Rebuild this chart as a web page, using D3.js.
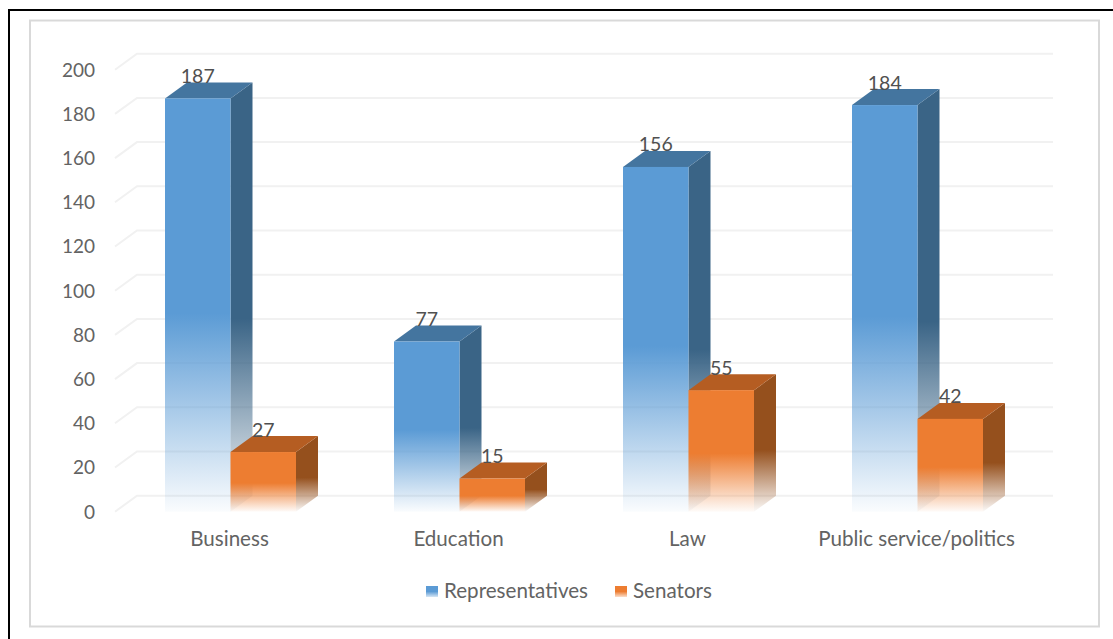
<!DOCTYPE html>
<html>
<head>
<meta charset="utf-8">
<script src="https://cdn.jsdelivr.net/npm/d3@7"></script>
<style>
  html, body { margin: 0; padding: 0; background: #fff; }
  svg { display: block; }
  text { font-family: Lato, "Open Sans", sans-serif; }
</style>
</head>
<body>
<div id="chart"></div>
<script>
var categories = ["Business", "Education", "Law", "Public service/politics"];
var seriesNames = ["Representatives", "Senators"];
var representatives = [187, 77, 156, 184];
var senators = [27, 15, 55, 42];
var yTicks = [0, 20, 40, 60, 80, 100, 120, 140, 160, 180, 200];

var width = 1113,
    height = 639,
    depth = {x: 22, y: 16},
    colors = {
      Representatives: {front: "#5b9bd5", top: "#44759f", side: "#3a6486"},
      Senators: {front: "#ed7d31", top: "#b55d22", side: "#95501d"}
    };

var rows = categories.map((c, i) => ({category: c, Representatives: representatives[i], Senators: senators[i]}));

var svg = d3.select("#chart").append("svg")
  .attr("width", width)
  .attr("height", height);

// black outer edge and grey chart frame
svg.append("path")
  .attr("d", `M9,${height}V10H${width}`)
  .attr("fill", "none")
  .attr("stroke", "#000")
  .attr("stroke-width", 2);
svg.append("rect")
  .attr("x", 30).attr("y", 20.5)
  .attr("width", 1069).attr("height", 606)
  .attr("fill", "#fff")
  .attr("stroke", "#d9d9d9")
  .attr("stroke-width", 2);

var xScale0 = d3.scaleBand().domain(categories).range([116, 1032]);
var xScale1 = d3.scaleBand().domain(seriesNames).range([0, 131]);
var yScale = d3.scaleLinear().domain([0, 200]).range([511.7, 69.7]);

// gradients, opaque to the middle of the bar then fading out
var defs = svg.append("defs");
seriesNames.forEach(name => {
  ["front", "top", "side"].forEach(face => {
    var g = defs.append("linearGradient")
      .attr("id", `${name}-${face}`)
      .attr("x1", 0).attr("y1", 0)
      .attr("x2", 0).attr("y2", 1);
    g.append("stop").attr("offset", face == "side" ? "55%" : "52%")
      .attr("stop-color", colors[name][face]).attr("stop-opacity", 1);
    g.append("stop").attr("offset", "100%")
      .attr("stop-color", colors[name][face]).attr("stop-opacity", 0.03);
  });
});
var legendGrad = defs.selectAll(".lg").data(seriesNames).enter().append("linearGradient")
  .attr("id", d => `legend-${d}`)
  .attr("x1", 0).attr("y1", 0).attr("x2", 0).attr("y2", 1);
legendGrad.append("stop").attr("offset", "50%").attr("stop-color", d => colors[d].front);
legendGrad.append("stop").attr("offset", "100%").attr("stop-color", d => colors[d].front).attr("stop-opacity", 0.25);

// gridlines on the back wall and the floor edges
var grid = svg.append("g").attr("fill", "none").attr("stroke", "#f1f1f1").attr("stroke-width", 2);
grid.selectAll("path").data(yTicks).enter().append("path")
  .attr("d", d => `M${xScale0.range()[0] - 1},${yScale(d)}l${depth.x},${-depth.y}H${xScale0.range()[1] + depth.x - 1}`);

// axes
var yAxis = d3.axisLeft(yScale).tickValues(yTicks).tickSize(0).tickPadding(0);
var yG = svg.append("g").attr("transform", "translate(95,0.3)").call(yAxis);
yG.select(".domain").remove();
yG.selectAll("text").attr("fill", "#636363").style("font-family", "Lato").style("font-size", "19px");

var xAxis = d3.axisBottom(xScale0).tickSize(0).tickPadding(0);
var xG = svg.append("g").attr("transform", "translate(-1,531)").call(xAxis);
xG.select(".domain").remove();
xG.selectAll("text").attr("fill", "#636363").style("font-family", "Lato").style("font-size", "20.6px");

// bars
var group = svg.selectAll(".group").data(rows).enter().append("g")
  .attr("class", "group")
  .attr("transform", d => `translate(${xScale0(d.category) + (xScale0.bandwidth() - 131) / 2},0)`);

var bar = group.selectAll(".bar")
  .data(d => seriesNames.map(n => ({name: n, value: d[n]})))
  .enter().append("g")
  .attr("class", "bar");

bar.append("path")
  .attr("fill", d => `url(#${d.name}-side)`)
  .attr("d", d => {
    var x = xScale1(d.name) + xScale1.bandwidth();
    return `M${x},${yScale(d.value)}l${depth.x},${-depth.y}V${yScale(0) - depth.y}L${x},${yScale(0)}Z`;
  });
bar.append("path")
  .attr("fill", d => colors[d.name].top)
  .attr("d", d => {
    var x = xScale1(d.name);
    return `M${x},${yScale(d.value)}l${depth.x},${-depth.y}h${xScale1.bandwidth()}l${-depth.x},${depth.y}Z`;
  });
bar.append("rect")
  .attr("fill", d => `url(#${d.name}-front)`)
  .attr("x", d => xScale1(d.name))
  .attr("y", d => yScale(d.value))
  .attr("width", xScale1.bandwidth())
  .attr("height", d => yScale(0) - yScale(d.value));
bar.append("text")
  .attr("x", d => xScale1(d.name) + xScale1.bandwidth() / 2)
  .attr("y", d => yScale(d.value) - 15.5)
  .attr("text-anchor", "middle")
  .attr("fill", "#505050")
  .style("font-size", "19.5px")
  .text(d => d.value);

// legend
var legendX = d3.scaleOrdinal().domain(seriesNames).range([426, 615]);
var legend = svg.selectAll(".legend").data(seriesNames).enter().append("g")
  .attr("class", "legend")
  .attr("transform", d => `translate(${legendX(d)},586)`);
legend.append("rect")
  .attr("width", 12).attr("height", 11)
  .attr("fill", d => `url(#legend-${d})`);
legend.append("text")
  .attr("x", 18).attr("y", 12)
  .attr("fill", "#636363")
  .style("font-size", "20.6px")
  .text(d => d);
</script>
</body>
</html>
